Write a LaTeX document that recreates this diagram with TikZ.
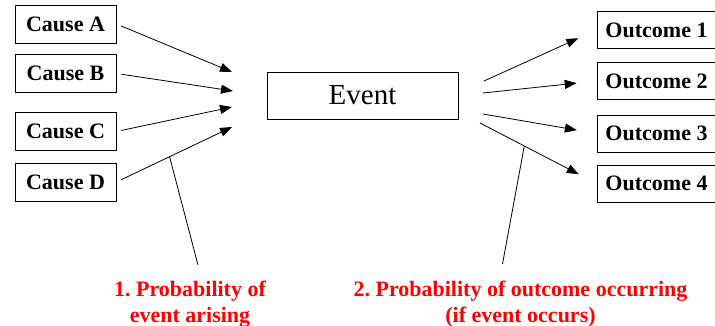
\documentclass[tikz,border=0pt]{standalone}
\usepackage{fontspec}
\setmainfont{Liberation Serif}
\usetikzlibrary{arrows.meta,positioning}
\frenchspacing

\begin{document}
\begin{tikzpicture}[x=1pt,y=1pt,
  box/.style={draw,line width=0.8pt,inner sep=0pt,font=\fontsize{22}{26}\selectfont\bfseries},
  causebox/.style={box,minimum width=101pt,minimum height=38pt},
  outbox/.style={box,minimum width=119pt,minimum height=37pt},
  arr/.style={line width=0.8pt,-{Triangle[length=12pt,width=9pt]}},
  pointer/.style={line width=0.8pt},
  note/.style={text=red,align=center,inner sep=0pt,anchor=north,
    font=\fontsize{22}{26}\selectfont\bfseries}]
  \useasboundingbox (0,0) rectangle (715,326);
  % causes
  \node[causebox] (ca) at (65.5,302) {Cause A};
  \node[causebox] (cb) at (65.5,252.5) {Cause B};
  \node[causebox] (cc) at (65.5,194.5) {Cause C};
  \node[causebox] (cd) at (65.5,144) {Cause D};
  % event
  \node[draw,line width=0.8pt,minimum width=191pt,minimum height=47pt,
    font=\fontsize{29}{34}\selectfont] (ev) at (362.5,230.5) {Event};
  % outcomes
  \node[outbox] (o1) at (656.5,296) {Outcome 1};
  \node[outbox] (o2) at (656.5,245) {Outcome 2};
  \node[outbox] (o3) at (656.5,192.5) {Outcome 3};
  \node[outbox] (o4) at (656.5,142.5) {Outcome 4};
  % arrow ends near the event
  \coordinate (inA) at (232,254);
  \coordinate (inB) at (233,235);
  \coordinate (inC) at (232,219);
  \coordinate (inD) at (232,199);
  \coordinate (e1) at (484,245);
  \coordinate (e2) at (483,233);
  \coordinate (e3) at (483,212);
  \coordinate (e4) at (480,203);
  \draw[arr,shorten <=5pt] (ca.east) -- (inA);
  \draw[arr,shorten <=5pt] (cb.east) -- (inB);
  \draw[arr,shorten <=5pt] (cc.east) -- (inC);
  \draw[arr,shorten <=5pt] (cd.east) -- (inD);
  \draw[arr,shorten >=20pt] (e1) -- (o1.west);
  \draw[arr,shorten >=20pt] (e2) -- (o2.west);
  \draw[arr,shorten >=20pt] (e3) -- (o3.west);
  \draw[arr,shorten >=20pt] (e4) -- (o4.west);
  % notes
  \path (cd.east) -- (inD) coordinate[pos=0.46] (pD);
  \path (e4) -- (o4.west) coordinate[pos=0.38] (p4);
  \node[note] (n1) at (190,45) {1. Probability of\\event arising};
  \node[note] (n2) at (520.5,45) {2. Probability of outcome occurring\\(if event occurs)};
  \draw[pointer] (pD) -- ([shift={(8pt,16pt)}]n1.north);
  \draw[pointer] (p4) -- ([shift={(-18pt,17pt)}]n2.north);
\end{tikzpicture}
\end{document}
